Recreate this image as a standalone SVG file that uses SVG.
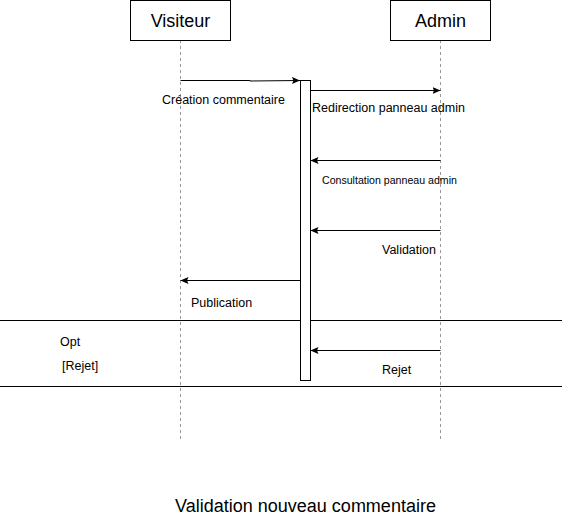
<svg xmlns="http://www.w3.org/2000/svg" width="562" height="521" viewBox="0 0 562 521">
<style>
text{font-family:"Liberation Sans",Arial,sans-serif;fill:#000}
.hdr{font-size:18px;text-anchor:middle}
.ttl{font-size:18px;text-anchor:middle}
.lbl{font-size:12.5px}
.sm{font-size:10.6px}
.box{fill:#fff;stroke:#000;stroke-width:1}
.life{stroke:#999;stroke-width:1;stroke-dasharray:3 3;fill:none}
.msg{stroke:#000;stroke-width:1;fill:none;marker-end:url(#arr)}
.frame{stroke:#000;stroke-width:1}
</style>
<defs>
<marker id="arr" viewBox="0 0 8 8" refX="8" refY="4" markerWidth="8" markerHeight="8" markerUnits="userSpaceOnUse" orient="auto">
<path d="M0,0.5 L8,4 L0,7.5 L1.5,4 Z" fill="#000"/>
</marker>
</defs>
<rect width="562" height="521" fill="#fff"/>
<g id="visiteur">
<line class="life" x1="180.5" y1="40" x2="180.5" y2="440"/>
<rect class="box" x="130.5" y="0.5" width="100" height="40"/>
<text class="hdr" x="180.5" y="27">Visiteur</text>
</g>
<g id="admin">
<line class="life" x1="440.5" y1="40" x2="440.5" y2="440"/>
<rect class="box" x="390.5" y="0.5" width="100" height="40"/>
<text class="hdr" x="440.5" y="27">Admin</text>
</g>
<g id="opt-frame">
<line class="frame" x1="0" y1="320.5" x2="562" y2="320.5"/>
<line class="frame" x1="0" y1="386.5" x2="562" y2="386.5"/>
<text class="lbl" x="60" y="346">Opt</text>
<text class="lbl" x="62" y="370">[Rejet]</text>
</g>
<g id="activation">
<rect class="box" x="300.5" y="80.5" width="10" height="300"/>
</g>
<g id="connectors">
<path class="msg" d="M180.5,80.5 L250,80.5 L250,81 L300,80.5"/>
<text class="lbl" x="162" y="104">Création commentaire</text>
<path class="msg" d="M310.5,90.5 L440.5,90.5"/>
<text class="lbl" x="312" y="112">Redirection panneau admin</text>
<path class="msg" d="M440.5,160.5 L310.5,160.5"/>
<text class="sm" x="322" y="184">Consultation panneau admin</text>
<path class="msg" d="M440.5,230.5 L310.5,230.5"/>
<text class="lbl" x="382" y="254">Validation</text>
<path class="msg" d="M300.5,280.5 L180.5,280.5"/>
<text class="lbl" x="191" y="307">Publication</text>
<path class="msg" d="M440.5,350.5 L310.5,350.5"/>
<text class="lbl" x="382" y="374">Rejet</text>
</g>
<g id="title">
<text class="ttl" x="305.5" y="512">Validation nouveau commentaire</text>
</g>
</svg>
